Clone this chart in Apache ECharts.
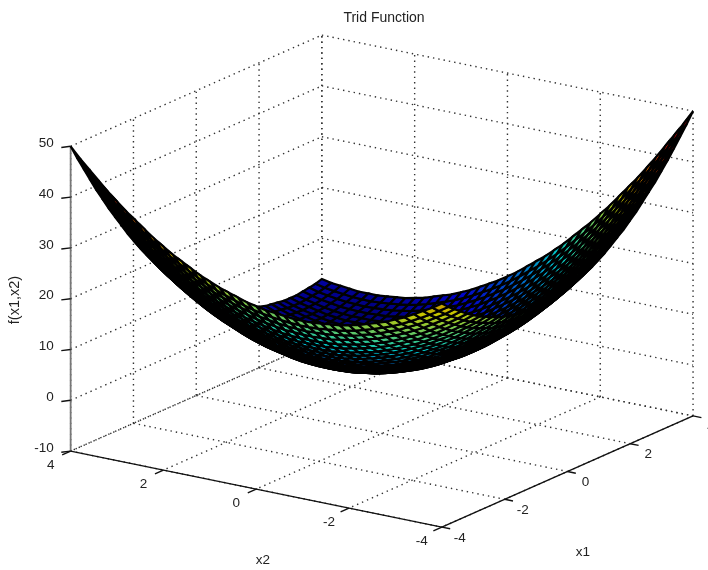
<!DOCTYPE html>
<html>
<head>
<meta charset="utf-8">
<style>html,body{margin:0;padding:0;background:#fff}#chart{width:708px;height:570px;filter:blur(0.7px)}</style>
<script src="https://cdn.jsdelivr.net/npm/echarts@6/dist/echarts.min.js"></script>
</head>
<body>
<div id="chart"></div>
<script>
var TITLE = 'Trid Function';
var X1_TICKS = [-4, -2, 0, 2, 4];
var X2_TICKS = [-4, -2, 0, 2, 4];
var Z_TICKS = [-10, 0, 10, 20, 30, 40, 50];
var GRID_STEP_COUNT = 40;
var GRID_START = -4;
var GRID_STEP = 0.2;
// surface heights, one row per x1 from -4 to 4, one column per x2 from -4 to 4
var Z_ROWS = [
[34,32.8,31.8,30.8,29.8,29,28.2,27.6,27,26.4,26,25.6,25.4,25.2,25,25,25,25.2,25.4,25.6,26,26.4,27,27.6,28.2,29,29.8,30.8,31.8,32.8,34,35.2,36.6,38,39.4,41,42.6,44.4,46.2,48,50],
[32.8,31.6,30.5,29.5,28.5,27.6,26.8,26.1,25.5,24.9,24.4,24,23.7,23.5,23.3,23.2,23.2,23.3,23.5,23.7,24,24.4,24.9,25.5,26.1,26.8,27.6,28.5,29.5,30.5,31.6,32.8,34.1,35.5,36.9,38.4,40,41.7,43.5,45.3,47.2],
[31.8,30.5,29.4,28.3,27.3,26.4,25.5,24.8,24.1,23.5,23,22.5,22.2,21.9,21.7,21.6,21.5,21.6,21.7,21.9,22.2,22.5,23,23.5,24.1,24.8,25.5,26.4,27.3,28.3,29.4,30.5,31.8,33.1,34.5,36,37.5,39.2,40.9,42.7,44.6],
[30.8,29.5,28.3,27.2,26.1,25.2,24.3,23.5,22.8,22.1,21.6,21.1,20.7,20.4,20.1,20,19.9,19.9,20,20.1,20.4,20.7,21.1,21.6,22.1,22.8,23.5,24.3,25.2,26.1,27.2,28.3,29.5,30.8,32.1,33.6,35.1,36.7,38.4,40.1,42],
[29.8,28.5,27.3,26.1,25,24,23.1,22.3,21.5,20.8,20.2,19.7,19.3,18.9,18.6,18.4,18.3,18.3,18.3,18.4,18.6,18.9,19.3,19.7,20.2,20.8,21.5,22.3,23.1,24,25,26.1,27.3,28.5,29.8,31.2,32.7,34.3,35.9,37.6,39.4],
[29,27.6,26.4,25.2,24,23,22,21.2,20.4,19.6,19,18.4,18,17.6,17.2,17,16.8,16.8,16.8,16.8,17,17.2,17.6,18,18.4,19,19.6,20.4,21.2,22,23,24,25.2,26.4,27.6,29,30.4,32,33.6,35.2,37],
[28.2,26.8,25.5,24.3,23.1,22,21,20.1,19.3,18.5,17.8,17.2,16.7,16.3,15.9,15.6,15.4,15.3,15.3,15.3,15.4,15.6,15.9,16.3,16.7,17.2,17.8,18.5,19.3,20.1,21,22,23.1,24.3,25.5,26.8,28.2,29.7,31.3,32.9,34.6],
[27.6,26.1,24.8,23.5,22.3,21.2,20.1,19.2,18.3,17.5,16.8,16.1,15.6,15.1,14.7,14.4,14.1,14,13.9,13.9,14,14.1,14.4,14.7,15.1,15.6,16.1,16.8,17.5,18.3,19.2,20.1,21.2,22.3,23.5,24.8,26.1,27.6,29.1,30.7,32.4],
[27,25.5,24.1,22.8,21.5,20.4,19.3,18.3,17.4,16.5,15.8,15.1,14.5,14,13.5,13.2,12.9,12.7,12.6,12.5,12.6,12.7,12.9,13.2,13.5,14,14.5,15.1,15.8,16.5,17.4,18.3,19.3,20.4,21.5,22.8,24.1,25.5,27,28.5,30.2],
[26.4,24.9,23.5,22.1,20.8,19.6,18.5,17.5,16.5,15.6,14.8,14.1,13.5,12.9,12.4,12,11.7,11.5,11.3,11.2,11.2,11.3,11.5,11.7,12,12.4,12.9,13.5,14.1,14.8,15.6,16.5,17.5,18.5,19.6,20.8,22.1,23.5,24.9,26.4,28],
[26,24.4,23,21.6,20.2,19,17.8,16.8,15.8,14.8,14,13.2,12.6,12,11.4,11,10.6,10.4,10.2,10,10,10,10.2,10.4,10.6,11,11.4,12,12.6,13.2,14,14.8,15.8,16.8,17.8,19,20.2,21.6,23,24.4,26],
[25.6,24,22.5,21.1,19.7,18.4,17.2,16.1,15.1,14.1,13.2,12.4,11.7,11.1,10.5,10,9.6,9.3,9.1,8.9,8.8,8.8,8.9,9.1,9.3,9.6,10,10.5,11.1,11.7,12.4,13.2,14.1,15.1,16.1,17.2,18.4,19.7,21.1,22.5,24],
[25.4,23.7,22.2,20.7,19.3,18,16.7,15.6,14.5,13.5,12.6,11.7,11,10.3,9.7,9.2,8.7,8.4,8.1,7.9,7.8,7.7,7.8,7.9,8.1,8.4,8.7,9.2,9.7,10.3,11,11.7,12.6,13.5,14.5,15.6,16.7,18,19.3,20.7,22.2],
[25.2,23.5,21.9,20.4,18.9,17.6,16.3,15.1,14,12.9,12,11.1,10.3,9.6,8.9,8.4,7.9,7.5,7.2,6.9,6.8,6.7,6.7,6.8,6.9,7.2,7.5,7.9,8.4,8.9,9.6,10.3,11.1,12,12.9,14,15.1,16.3,17.6,18.9,20.4],
[25,23.3,21.7,20.1,18.6,17.2,15.9,14.7,13.5,12.4,11.4,10.5,9.7,8.9,8.2,7.6,7.1,6.7,6.3,6,5.8,5.7,5.7,5.7,5.8,6,6.3,6.7,7.1,7.6,8.2,8.9,9.7,10.5,11.4,12.4,13.5,14.7,15.9,17.2,18.6],
[25,23.2,21.6,20,18.4,17,15.6,14.4,13.2,12,11,10,9.2,8.4,7.6,7,6.4,6,5.6,5.2,5,4.8,4.8,4.8,4.8,5,5.2,5.6,6,6.4,7,7.6,8.4,9.2,10,11,12,13.2,14.4,15.6,17],
[25,23.2,21.5,19.9,18.3,16.8,15.4,14.1,12.9,11.7,10.6,9.6,8.7,7.9,7.1,6.4,5.8,5.3,4.9,4.5,4.2,4,3.9,3.9,3.9,4,4.2,4.5,4.9,5.3,5.8,6.4,7.1,7.9,8.7,9.6,10.6,11.7,12.9,14.1,15.4],
[25.2,23.3,21.6,19.9,18.3,16.8,15.3,14,12.7,11.5,10.4,9.3,8.4,7.5,6.7,6,5.3,4.8,4.3,3.9,3.6,3.3,3.2,3.1,3.1,3.2,3.3,3.6,3.9,4.3,4.8,5.3,6,6.7,7.5,8.4,9.3,10.4,11.5,12.7,14],
[25.4,23.5,21.7,20,18.3,16.8,15.3,13.9,12.6,11.3,10.2,9.1,8.1,7.2,6.3,5.6,4.9,4.3,3.8,3.3,3,2.7,2.5,2.4,2.3,2.4,2.5,2.7,3,3.3,3.8,4.3,4.9,5.6,6.3,7.2,8.1,9.1,10.2,11.3,12.6],
[25.6,23.7,21.9,20.1,18.4,16.8,15.3,13.9,12.5,11.2,10,8.9,7.9,6.9,6,5.2,4.5,3.9,3.3,2.8,2.4,2.1,1.9,1.7,1.6,1.6,1.7,1.9,2.1,2.4,2.8,3.3,3.9,4.5,5.2,6,6.9,7.9,8.9,10,11.2],
[26,24,22.2,20.4,18.6,17,15.4,14,12.6,11.2,10,8.8,7.8,6.8,5.8,5,4.2,3.6,3,2.4,2,1.6,1.4,1.2,1,1,1,1.2,1.4,1.6,2,2.4,3,3.6,4.2,5,5.8,6.8,7.8,8.8,10],
[26.4,24.4,22.5,20.7,18.9,17.2,15.6,14.1,12.7,11.3,10,8.8,7.7,6.7,5.7,4.8,4,3.3,2.7,2.1,1.6,1.2,.9,.7,.5,.4,.4,.5,.7,.9,1.2,1.6,2.1,2.7,3.3,4,4.8,5.7,6.7,7.7,8.8],
[27,24.9,23,21.1,19.3,17.6,15.9,14.4,12.9,11.5,10.2,8.9,7.8,6.7,5.7,4.8,3.9,3.2,2.5,1.9,1.4,.9,.6,.3,.1,0,-.1,0,.1,.3,.6,.9,1.4,1.9,2.5,3.2,3.9,4.8,5.7,6.7,7.8],
[27.6,25.5,23.5,21.6,19.7,18,16.3,14.7,13.2,11.7,10.4,9.1,7.9,6.8,5.7,4.8,3.9,3.1,2.4,1.7,1.2,.7,.3,0,-.3,-.4,-.5,-.5,-.4,-.3,0,.3,.7,1.2,1.7,2.4,3.1,3.9,4.8,5.7,6.8],
[28.2,26.1,24.1,22.1,20.2,18.4,16.7,15.1,13.5,12,10.6,9.3,8.1,6.9,5.8,4.8,3.9,3.1,2.3,1.6,1,.5,.1,-.3,-.6,-.8,-.9,-.9,-.9,-.8,-.6,-.3,.1,.5,1,1.6,2.3,3.1,3.9,4.8,5.8],
[29,26.8,24.8,22.8,20.8,19,17.2,15.6,14,12.4,11,9.6,8.4,7.2,6,5,4,3.2,2.4,1.6,1,.4,0,-.4,-.8,-1,-1.2,-1.2,-1.2,-1.2,-1,-.8,-.4,0,.4,1,1.6,2.4,3.2,4,5],
[29.8,27.6,25.5,23.5,21.5,19.6,17.8,16.1,14.5,12.9,11.4,10,8.7,7.5,6.3,5.2,4.2,3.3,2.5,1.7,1,.4,-.1,-.5,-.9,-1.2,-1.4,-1.5,-1.5,-1.5,-1.4,-1.2,-.9,-.5,-.1,.4,1,1.7,2.5,3.3,4.2],
[30.8,28.5,26.4,24.3,22.3,20.4,18.5,16.8,15.1,13.5,12,10.5,9.2,7.9,6.7,5.6,4.5,3.6,2.7,1.9,1.2,.5,0,-.5,-.9,-1.2,-1.5,-1.6,-1.7,-1.7,-1.6,-1.5,-1.2,-.9,-.5,0,.5,1.2,1.9,2.7,3.6],
[31.8,29.5,27.3,25.2,23.1,21.2,19.3,17.5,15.8,14.1,12.6,11.1,9.7,8.4,7.1,6,4.9,3.9,3,2.1,1.4,.7,.1,-.4,-.9,-1.2,-1.5,-1.7,-1.8,-1.9,-1.8,-1.7,-1.5,-1.2,-.9,-.4,.1,.7,1.4,2.1,3],
[32.8,30.5,28.3,26.1,24,22,20.1,18.3,16.5,14.8,13.2,11.7,10.3,8.9,7.6,6.4,5.3,4.3,3.3,2.4,1.6,.9,.3,-.3,-.8,-1.2,-1.5,-1.7,-1.9,-2,-2,-1.9,-1.7,-1.5,-1.2,-.8,-.3,.3,.9,1.6,2.4],
[34,31.6,29.4,27.2,25,23,21,19.2,17.4,15.6,14,12.4,11,9.6,8.2,7,5.8,4.8,3.8,2.8,2,1.2,.6,0,-.6,-1,-1.4,-1.6,-1.8,-2,-2,-2,-1.8,-1.6,-1.4,-1,-.6,0,.6,1.2,2],
[35.2,32.8,30.5,28.3,26.1,24,22,20.1,18.3,16.5,14.8,13.2,11.7,10.3,8.9,7.6,6.4,5.3,4.3,3.3,2.4,1.6,.9,.3,-.3,-.8,-1.2,-1.5,-1.7,-1.9,-2,-2,-1.9,-1.7,-1.5,-1.2,-.8,-.3,.3,.9,1.6],
[36.6,34.1,31.8,29.5,27.3,25.2,23.1,21.2,19.3,17.5,15.8,14.1,12.6,11.1,9.7,8.4,7.1,6,4.9,3.9,3,2.1,1.4,.7,.1,-.4,-.9,-1.2,-1.5,-1.7,-1.8,-1.9,-1.8,-1.7,-1.5,-1.2,-.9,-.4,.1,.7,1.4],
[38,35.5,33.1,30.8,28.5,26.4,24.3,22.3,20.4,18.5,16.8,15.1,13.5,12,10.5,9.2,7.9,6.7,5.6,4.5,3.6,2.7,1.9,1.2,.5,0,-.5,-.9,-1.2,-1.5,-1.6,-1.7,-1.7,-1.6,-1.5,-1.2,-.9,-.5,0,.5,1.2],
[39.4,36.9,34.5,32.1,29.8,27.6,25.5,23.5,21.5,19.6,17.8,16.1,14.5,12.9,11.4,10,8.7,7.5,6.3,5.2,4.2,3.3,2.5,1.7,1,.4,-.1,-.5,-.9,-1.2,-1.4,-1.5,-1.5,-1.5,-1.4,-1.2,-.9,-.5,-.1,.4,1],
[41,38.4,36,33.6,31.2,29,26.8,24.8,22.8,20.8,19,17.2,15.6,14,12.4,11,9.6,8.4,7.2,6,5,4,3.2,2.4,1.6,1,.4,0,-.4,-.8,-1,-1.2,-1.2,-1.2,-1.2,-1,-.8,-.4,0,.4,1],
[42.6,40,37.5,35.1,32.7,30.4,28.2,26.1,24.1,22.1,20.2,18.4,16.7,15.1,13.5,12,10.6,9.3,8.1,6.9,5.8,4.8,3.9,3.1,2.3,1.6,1,.5,.1,-.3,-.6,-.8,-.9,-.9,-.9,-.8,-.6,-.3,.1,.5,1],
[44.4,41.7,39.2,36.7,34.3,32,29.7,27.6,25.5,23.5,21.6,19.7,18,16.3,14.7,13.2,11.7,10.4,9.1,7.9,6.8,5.7,4.8,3.9,3.1,2.4,1.7,1.2,.7,.3,0,-.3,-.4,-.5,-.5,-.4,-.3,0,.3,.7,1.2],
[46.2,43.5,40.9,38.4,35.9,33.6,31.3,29.1,27,24.9,23,21.1,19.3,17.6,15.9,14.4,12.9,11.5,10.2,8.9,7.8,6.7,5.7,4.8,3.9,3.2,2.5,1.9,1.4,.9,.6,.3,.1,0,-.1,0,.1,.3,.6,.9,1.4],
[48,45.3,42.7,40.1,37.6,35.2,32.9,30.7,28.5,26.4,24.4,22.5,20.7,18.9,17.2,15.6,14.1,12.7,11.3,10,8.8,7.7,6.7,5.7,4.8,4,3.3,2.7,2.1,1.6,1.2,.9,.7,.5,.4,.4,.5,.7,.9,1.2,1.6],
[50,47.2,44.6,42,39.4,37,34.6,32.4,30.2,28,26,24,22.2,20.4,18.6,17,15.4,14,12.6,11.2,10,8.8,7.8,6.8,5.8,5,4.2,3.6,3,2.4,2,1.6,1.4,1.2,1,1,1,1.2,1.4,1.6,2]
];

// orthographic view read from the box corners
var VIEW = {ux1: 31.4, ux2: -46.4, vx1: 13.9, vx2: 9.5, vz: 5.08};
var PLOT = {uMin: -381.85, uMax: 326.15, vMin: -187.3, vMax: 382.7};
var CAMERA = {x1: -1, x2: -0.677, z: 4};
var Z_COLOR_MIN = -2, Z_COLOR_MAX = 50;
var COLOR_GAIN = 0.78;
var FONT = '13.5px "Liberation Sans", Arial, sans-serif';
var TEXT_COLOR = '#222';

function project(x1, x2, z) {
  return [VIEW.ux1 * x1 + VIEW.ux2 * x2, VIEW.vx1 * x1 + VIEW.vx2 * x2 + VIEW.vz * z];
}
function axisCoord(i) { return GRID_START + GRID_STEP * i; }
function jet(t) {
  t = Math.max(0, Math.min(1, t));
  function c(x) { return Math.round(255 * COLOR_GAIN * Math.max(0, Math.min(1, x))); }
  var r = 1.5 - Math.abs(4 * t - 3), g = 1.5 - Math.abs(4 * t - 2), b = 1.5 - Math.abs(4 * t - 1);
  return 'rgb(' + c(r) + ',' + c(g) + ',' + c(b) + ')';
}

// surface cells, far to near
var cells = [];
for (var i = 0; i < GRID_STEP_COUNT; i++) {
  for (var j = 0; j < GRID_STEP_COUNT; j++) {
    var meanZ = (Z_ROWS[i][j] + Z_ROWS[i + 1][j] + Z_ROWS[i + 1][j + 1] + Z_ROWS[i][j + 1]) / 4;
    var depth = CAMERA.x1 * axisCoord(i + 0.5) + CAMERA.x2 * axisCoord(j + 0.5) + CAMERA.z * meanZ;
    cells.push([i, j, depth, meanZ]);
  }
}
cells.sort(function (a, b) { return a[2] - b[2]; });

// dotted box grid
var zLo = Z_TICKS[0], zHi = Z_TICKS[Z_TICKS.length - 1];
var lo = X1_TICKS[0], hi = X1_TICKS[X1_TICKS.length - 1];
var dotted = [];
Z_TICKS.forEach(function (z) {
  dotted.push([lo, hi, z, hi, hi, z]);
  dotted.push([hi, hi, z, hi, lo, z]);
});
X1_TICKS.forEach(function (t) {
  dotted.push([t, hi, zLo, t, hi, zHi]);
  dotted.push([t, hi, zLo, t, lo, zLo]);
});
X2_TICKS.forEach(function (t) {
  dotted.push([hi, t, zLo, hi, t, zHi]);
  dotted.push([hi, t, zLo, lo, t, zLo]);
});
// solid axes and ticks: segment + colour/width index
var solid = [
  [lo, hi, zLo, lo, hi, zHi, 1],
  [lo, hi, zLo, lo, lo, zLo, 0],
  [lo, lo, zLo, hi, lo, zLo, 0]
];
Z_TICKS.forEach(function (z) { solid.push([lo, hi, z, lo - 0.15, hi + 0.1, z, 0]); });
X2_TICKS.forEach(function (t) { solid.push([lo, t, zLo, lo - 0.27, t, zLo, 0]); });
X1_TICKS.forEach(function (t) { solid.push([t, lo, zLo, t, lo - 0.18, zLo, 0]); });
var SOLID_STYLE = [{stroke: '#111', lineWidth: 1.4}, {stroke: '#777', lineWidth: 1.8}];

// tick labels: position in the box + pixel offset
var labels = [];
Z_TICKS.forEach(function (z) { labels.push({p: [lo, hi, z], dx: -17, dy: -3, t: String(z), a: 'right'}); });
X2_TICKS.forEach(function (t) { labels.push({p: [lo, t, zLo], dx: -20, dy: 14, t: String(t), a: 'center'}); });
X1_TICKS.forEach(function (t) { labels.push({p: [t, lo, zLo], dx: 18, dy: 11, t: String(t), a: 'center'}); });

function segmentItem(style) {
  return function (params, api) {
    var a = api.coord(project(api.value(0), api.value(1), api.value(2)));
    var b = api.coord(project(api.value(3), api.value(4), api.value(5)));
    return {type: 'line', shape: {x1: a[0], y1: a[1], x2: b[0], y2: b[1]},
      style: style || SOLID_STYLE[api.value(6)]};
  };
}

var chart = echarts.init(document.getElementById('chart'), null, {renderer: 'canvas'});
chart.setOption({
  animation: false,
  backgroundColor: '#fff',
  title: {text: TITLE, left: 379, top: 6, textAlign: 'center',
    textStyle: {fontFamily: '"Liberation Sans", Arial, sans-serif', fontSize: 14, fontWeight: 'normal', color: TEXT_COLOR}},
  tooltip: {show: false},
  grid: {left: 0, right: 0, top: 0, bottom: 0},
  xAxis: {type: 'value', show: false, min: PLOT.uMin, max: PLOT.uMax},
  yAxis: {type: 'value', show: false, min: PLOT.vMin, max: PLOT.vMax},
  series: [
    {type: 'custom', name: 'box grid', silent: true, z: 1, clip: false, data: dotted,
      encode: {x: 0, y: 1},
      renderItem: segmentItem({stroke: '#333', lineWidth: 1.4, lineDash: [1.4, 4]})},
    {type: 'custom', name: 'axes', silent: true, z: 2, clip: false, data: solid,
      encode: {x: 0, y: 1},
      renderItem: segmentItem(null)},
    {type: 'custom', name: 'surface', silent: true, z: 3, clip: false, data: cells,
      encode: {x: 0, y: 1},
      renderItem: function (params, api) {
        var i = api.value(0), j = api.value(1);
        var pts = [[i, j], [i + 1, j], [i + 1, j + 1], [i, j + 1]].map(function (c) {
          return api.coord(project(axisCoord(c[0]), axisCoord(c[1]), Z_ROWS[c[0]][c[1]]));
        });
        return {type: 'polygon', shape: {points: pts},
          style: {fill: jet((api.value(3) - Z_COLOR_MIN) / (Z_COLOR_MAX - Z_COLOR_MIN)), stroke: '#000', lineWidth: 2.2}};
      }},
    {type: 'custom', name: 'tick labels', silent: true, z: 4, clip: false,
      data: labels.map(function (l, n) { return [n]; }),
      encode: {x: 0},
      renderItem: function (params, api) {
        var l = labels[api.value(0)];
        var c = api.coord(project(l.p[0], l.p[1], l.p[2]));
        return {type: 'text', x: c[0] + l.dx, y: c[1] + l.dy,
          style: {text: l.t, font: FONT, fill: TEXT_COLOR, align: l.a, verticalAlign: 'middle'}};
      }}
  ],
  graphic: [
    {type: 'text', x: 263, y: 560, style: {text: 'x2', font: FONT, fill: TEXT_COLOR, align: 'center', verticalAlign: 'middle'}},
    {type: 'text', x: 583, y: 552, style: {text: 'x1', font: FONT, fill: TEXT_COLOR, align: 'center', verticalAlign: 'middle'}},
    {type: 'text', x: 15, y: 300, rotation: Math.PI / 2, style: {text: 'f(x1,x2)', font: '14.5px "Liberation Sans", Arial, sans-serif', fill: TEXT_COLOR, align: 'center', verticalAlign: 'middle'}}
  ]
});
</script>
</body>
</html>
